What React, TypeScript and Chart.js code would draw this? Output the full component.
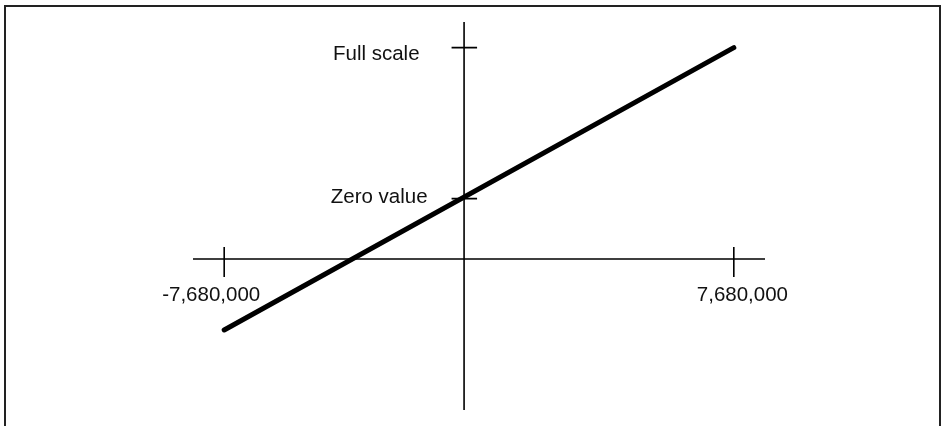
import React, { useEffect, useRef } from "react";
import { Chart, registerables } from "chart.js";

Chart.register(...registerables);

// ---- data ----
const lineX = [-7680000, 7680000];
const lineY = [-2.35, 7];
const xTickValues = [-7680000, 7680000];
const xTickLabels = ["-7,680,000", "7,680,000"];
const yTickValues = [7, 2];
const yTickLabels = ["Full scale", "Zero value"];
const xRange = [-8620000, 8620000];
const yRange = [-5, 7.85];
const yAxisAtX = -450000;
const xAxisAtY = 0;

const FONT = '20.5px "Liberation Sans", Arial, sans-serif';

const axesPlugin = {
  id: "customAxes",
  beforeDraw(chart: any) {
    const ctx = chart.ctx;
    ctx.save();
    ctx.fillStyle = "#ffffff";
    ctx.fillRect(0, 0, chart.width, chart.height);
    ctx.strokeStyle = "#222222";
    ctx.lineWidth = 2;
    ctx.strokeRect(5, 6, 935, 440);
    ctx.restore();
  },
  beforeDatasetsDraw(chart: any) {
    const ctx = chart.ctx;
    const xs = chart.scales.x;
    const ys = chart.scales.y;
    const area = chart.chartArea;
    const ax = xs.getPixelForValue(yAxisAtX);
    const ay = ys.getPixelForValue(xAxisAtY);
    ctx.save();
    ctx.strokeStyle = "#000000";
    ctx.lineWidth = 1.6;
    ctx.beginPath();
    ctx.moveTo(area.left, ay);
    ctx.lineTo(area.right, ay);
    ctx.moveTo(ax, area.top);
    ctx.lineTo(ax, area.bottom);
    xTickValues.forEach((v) => {
      const px = xs.getPixelForValue(v);
      ctx.moveTo(px, ay - 12);
      ctx.lineTo(px, ay + 18);
    });
    yTickValues.forEach((v) => {
      const py = ys.getPixelForValue(v);
      ctx.moveTo(ax - 12.5, py);
      ctx.lineTo(ax + 13, py);
    });
    ctx.stroke();

    ctx.fillStyle = "#111111";
    ctx.font = FONT;
    ctx.textBaseline = "alphabetic";
    xTickValues.forEach((v, i) => {
      const px = xs.getPixelForValue(v);
      if (v < 0) {
        ctx.textAlign = "right";
        ctx.fillText(xTickLabels[i], px + 36, ay + 42);
      } else {
        ctx.textAlign = "left";
        ctx.fillText(xTickLabels[i], px - 37, ay + 42);
      }
    });
    const yLabelOffsets = [
      { dx: -44.5, dy: 12.3 },
      { dx: -36.5, dy: 4 },
    ];
    yTickValues.forEach((v, i) => {
      const py = ys.getPixelForValue(v);
      ctx.textAlign = "right";
      ctx.fillText(yTickLabels[i], ax + yLabelOffsets[i].dx, py + yLabelOffsets[i].dy);
    });
    ctx.restore();
  },
};

export default function App() {
  const ref = useRef<HTMLCanvasElement | null>(null);
  useEffect(() => {
    if (!ref.current) return;
    const chart = new Chart(ref.current, {
      type: "scatter",
      data: {
        datasets: [
          {
            data: lineX.map((x, i) => ({ x, y: lineY[i] })),
            showLine: true,
            borderColor: "#000000",
            borderWidth: 5,
            borderCapStyle: "round",
            pointRadius: 0,
            pointHoverRadius: 0,
            clip: false as any,
          } as any,
        ],
      },
      options: {
        animation: false,
        responsive: false,
        devicePixelRatio: 1,
        events: [],
        layout: { padding: { left: 193, right: 176, top: 22, bottom: 16 } },
        plugins: { legend: { display: false }, tooltip: { enabled: false } },
        scales: {
          x: { type: "linear", display: false, min: xRange[0], max: xRange[1] },
          y: { type: "linear", display: false, min: yRange[0], max: yRange[1] },
        },
      },
      plugins: [axesPlugin],
    });
    return () => chart.destroy();
  }, []);
  return (
    <div style={{ position: "absolute", left: 0, top: 0, width: 941, height: 426 }}>
      <canvas ref={ref} width={941} height={426} style={{ width: 941, height: 426 }} />
    </div>
  );
}
